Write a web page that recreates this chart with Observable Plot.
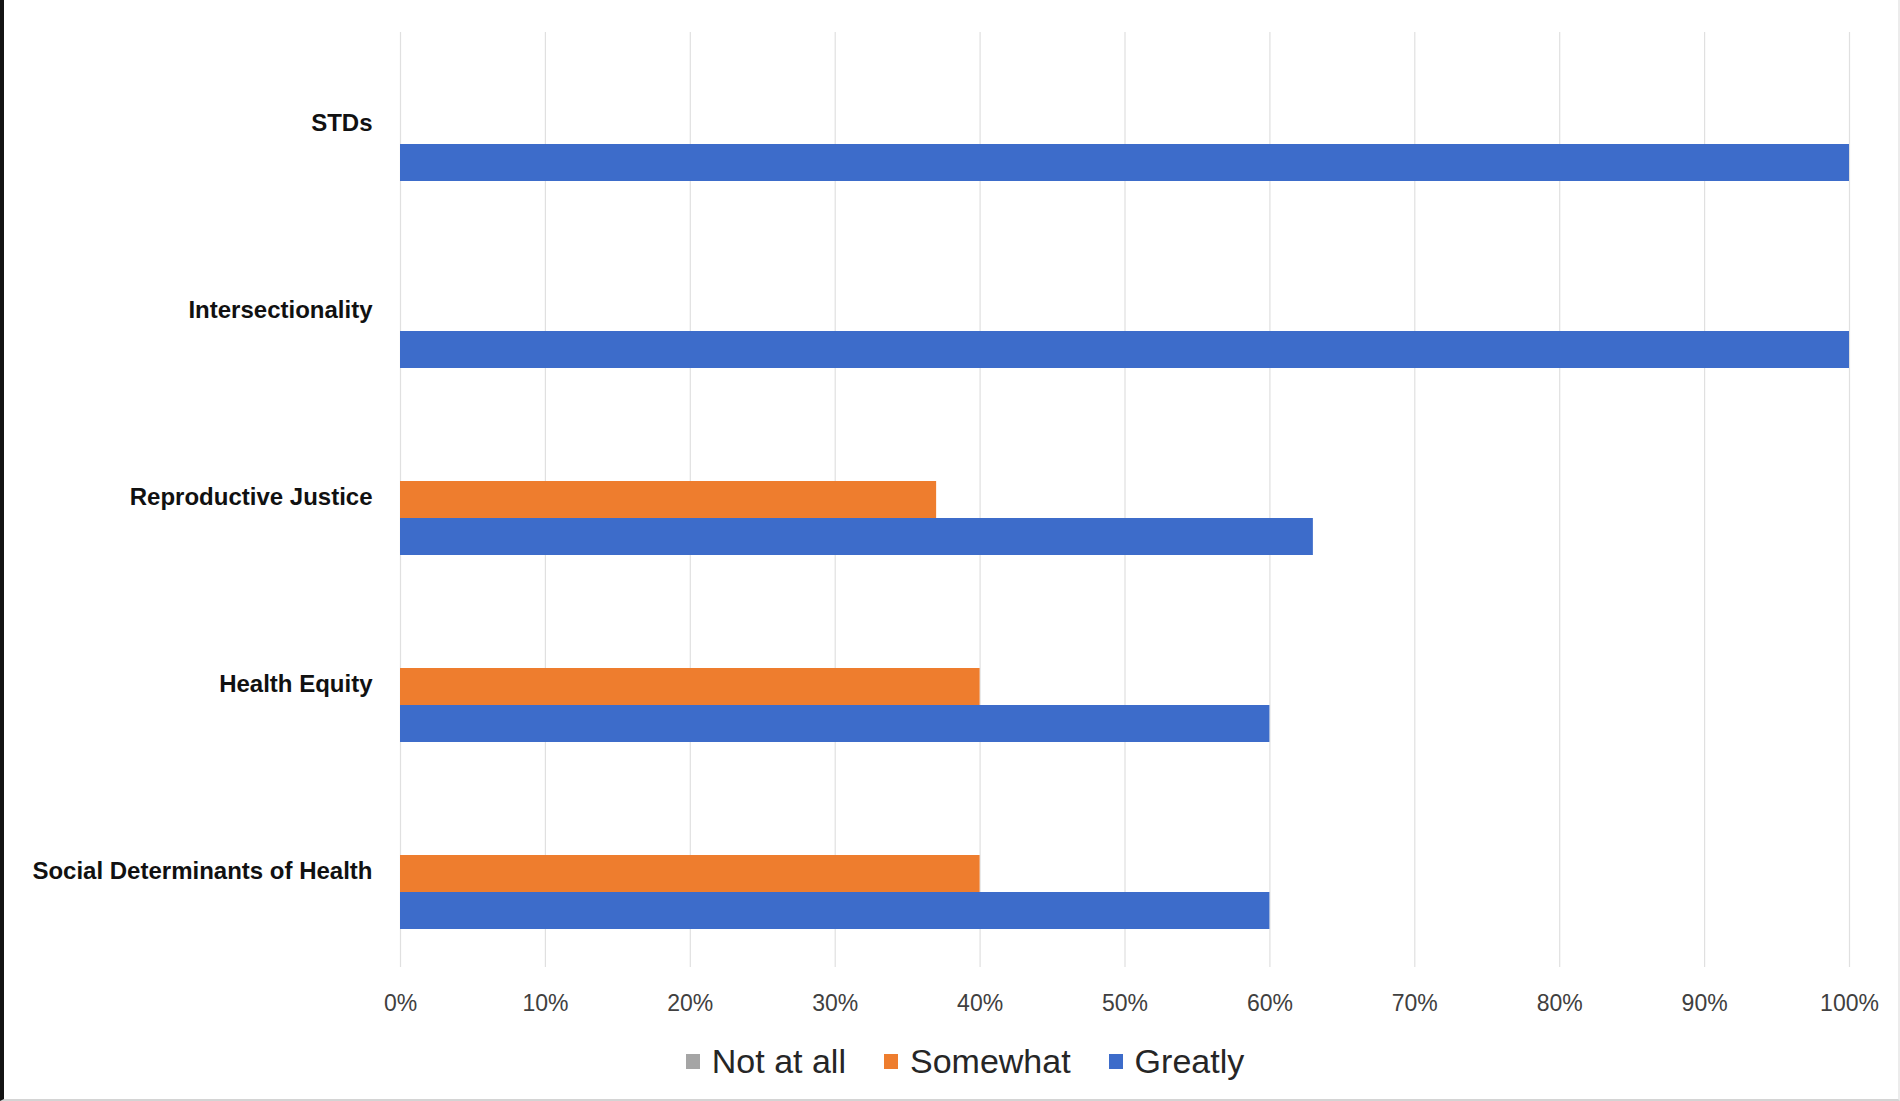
<!DOCTYPE html>
<html>
<head>
<meta charset="utf-8">
<script src="https://cdn.jsdelivr.net/npm/d3@7"></script>
<script src="https://cdn.jsdelivr.net/npm/@observablehq/plot@0.6"></script>
<style>
  html, body { margin: 0; padding: 0; background: #ffffff; }
  #wrap {
    position: relative; width: 1900px; height: 1101px; overflow: hidden;
    font-family: "Liberation Sans", Arial, sans-serif; background: #ffffff;
  }
  #chart { position: absolute; left: 0; top: 0; }
  #frame {
    position: absolute; left: 0; top: 0; width: 1900px; height: 1101px;
    box-sizing: border-box; pointer-events: none;
    border-left: 4px solid #141414; border-bottom: 2px solid #d4d4d4; border-right: 2px solid #ececec;
  }
  #legend {
    position: absolute; left: 0; top: 1039px; width: 1900px; height: 44px;
    display: flex; justify-content: center; align-items: center;
    padding-left: 30px; box-sizing: border-box;
    font-size: 34px; color: #262626;
  }
  .item { display: flex; align-items: center; margin: 0 19px; }
  .swatch { width: 14px; height: 15px; margin-right: 12px; }
</style>
</head>
<body>
<div id="wrap">
  <div id="chart"></div>
  <div id="legend"></div>
  <div id="frame"></div>
</div>
<script>
// Topics, top to bottom
const topics = [
  "STDs",
  "Intersectionality",
  "Reproductive Justice",
  "Health Equity",
  "Social Determinants of Health"
];

// Response categories (series)
const responses = ["Not at all", "Somewhat", "Greatly"];

// Share of respondents per topic, one array per response
const notAtAll = [0, 0, 0, 0, 0];
const somewhat = [0, 0, 0.37, 0.40, 0.40];
const greatly  = [1, 1, 0.63, 0.60, 0.60];

// Axis ticks
const xTicks = [0, 0.1, 0.2, 0.3, 0.4, 0.5, 0.6, 0.7, 0.8, 0.9, 1];

const palette = ["#a5a5a5", "#ee7d2e", "#3d6cca"];

const series = [notAtAll, somewhat, greatly];
const rows = topics.flatMap((topic, i) =>
  responses.map((response, j) => ({ topic, response, share: series[j][i] }))
);

const pct = d3.format(".0%");

const chart = Plot.plot({
  width: 1900,
  height: 1034,
  marginLeft: 400,
  marginRight: 51,
  marginTop: 31,
  marginBottom: 67,
  style: { fontFamily: '"Liberation Sans", Arial, sans-serif', background: "transparent", overflow: "visible" },
  x: { domain: [0, 1] },
  y: { domain: responses, paddingInner: 0, paddingOuter: 1, axis: null },
  fy: { domain: topics, padding: 0, label: null },
  color: { domain: responses, range: palette },
  marks: [
    Plot.gridX(xTicks, { stroke: "#e0e0e0", strokeOpacity: 1, strokeWidth: 1.2 }),
    Plot.barX(rows, { x: "share", y: "response", fy: "topic", fill: "response" }),
    Plot.axisX(xTicks, {
      anchor: "bottom", tickSize: 0, tickPadding: 27, tickFormat: pct,
      fontSize: 23, fill: "#404040", label: null
    }),
    Plot.axisFy({
      anchor: "left", tickSize: 0, tickPadding: 28, dy: -3,
      fontSize: 24, fontWeight: "bold", fill: "#111111", label: null
    })
  ]
});
document.getElementById("chart").appendChild(chart);

// Legend row below the chart
const legend = d3.select("#legend");
responses.forEach((r, i) => {
  const item = legend.append("div").attr("class", "item");
  item.append("div").attr("class", "swatch").style("background", palette[i]);
  item.append("span").text(r);
});
</script>
</body>
</html>
